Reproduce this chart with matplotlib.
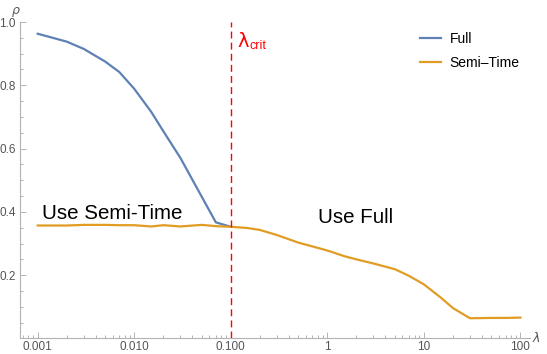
import numpy as np
import matplotlib
matplotlib.use("Agg")
import matplotlib.pyplot as plt
from matplotlib.ticker import FixedLocator, FixedFormatter, MultipleLocator

# data
lam_full = [0.001, 0.002, 0.003, 0.005, 0.007, 0.01, 0.015, 0.02, 0.03, 0.05, 0.07, 0.1]
rho_full = [0.963, 0.938, 0.915, 0.875, 0.842, 0.789, 0.716, 0.655, 0.571, 0.448, 0.367, 0.353]

lam_semi = [0.001, 0.002, 0.003, 0.005, 0.007, 0.01, 0.015, 0.02, 0.03, 0.05, 0.07,
            0.1, 0.15, 0.2, 0.3, 0.5, 0.7, 1, 1.5, 2, 3, 5, 7, 10, 15, 20, 30, 50, 70, 100]
rho_semi = [0.357, 0.357, 0.359, 0.359, 0.358, 0.358, 0.354, 0.358, 0.354, 0.359, 0.355,
            0.353, 0.349, 0.343, 0.327, 0.303, 0.291, 0.278, 0.260, 0.250, 0.237, 0.219,
            0.198, 0.171, 0.129, 0.096, 0.064, 0.065, 0.065, 0.066]

lam_crit = 0.1
x_ticks = [0.001, 0.01, 0.1, 1, 10, 100]
x_tick_labels = ["0.001", "0.010", "0.100", "1", "10", "100"]
y_ticks = [0.2, 0.4, 0.6, 0.8, 1.0]

blue = "#5E81B5"
orange = "#E19C24"
axis_gray = "#b3b3b3"
label_gray = "#555555"

plt.rcParams['font.family'] = ['Liberation Sans', 'DejaVu Sans']

fig = plt.figure(figsize=(5.47, 3.54), dpi=100)
ax = fig.add_axes([0.0366, 0.0438, 0.932, 0.894])

ax.plot(lam_full, rho_full, color=blue, lw=1.6, label="Full", solid_joinstyle="round")
ax.plot(lam_semi, rho_semi, color=orange, lw=1.6, label="Semi\u2013Time", solid_joinstyle="round")
ax.plot([lam_crit, lam_crit], [0, 1.0], color="red", lw=1.0, ls=(0, (5, 3)))

ax.set_xscale("log")
ax.set_xlim(0.000656, 125)
ax.set_ylim(0, 1.0)

ax.xaxis.set_major_locator(FixedLocator(x_ticks))
ax.xaxis.set_major_formatter(FixedFormatter(x_tick_labels))
minors = [m * 10.0 ** e for e in range(-4, 3) for m in range(2, 10)]
ax.xaxis.set_minor_locator(FixedLocator(minors))
ax.xaxis.set_minor_formatter(FixedFormatter([""] * len(minors)))
ax.yaxis.set_major_locator(FixedLocator(y_ticks))
ax.yaxis.set_minor_locator(MultipleLocator(0.05))

for s in ["top", "right"]:
    ax.spines[s].set_visible(False)
for s in ["left", "bottom"]:
    ax.spines[s].set_color(axis_gray)
    ax.spines[s].set_linewidth(0.8)

ax.tick_params(which="both", direction="in", color=axis_gray, width=0.7)
ax.tick_params(which="major", length=4, labelsize=8.5, labelcolor=label_gray)
ax.tick_params(which="minor", length=2.2)
ax.tick_params(axis="x", pad=1.5)
ax.tick_params(axis="y", pad=3)

ax.text(0.000656, 1.015, "\u03c1", color=label_gray, fontsize=9, ha="right", va="bottom",
        style="italic", family="DejaVu Sans")
ax.text(133, 0.0, "\u03bb", color=label_gray, fontsize=9, ha="left", va="center",
        style="italic", family="DejaVu Sans")

ax.text(0.00111, 0.395, "Use Semi-Time", fontsize=14.8, ha="left", va="center", color="black")
ax.text(0.80, 0.383, "Use Full", fontsize=14.8, ha="left", va="center", color="black")

ax.text(0.118, 0.94, "\u03bb", color="red", fontsize=14, ha="left", va="center", family="DejaVu Sans")
ax.text(0.155, 0.925, "crit", color="red", fontsize=9, ha="left", va="center")

ax.legend(loc="upper left", bbox_to_anchor=(0.784, 0.968), frameon=False, fontsize=10,
          borderpad=0, borderaxespad=0,
          handlelength=1.5, handletextpad=0.65, labelspacing=0.73)

fig.savefig("out.png", dpi=100)
